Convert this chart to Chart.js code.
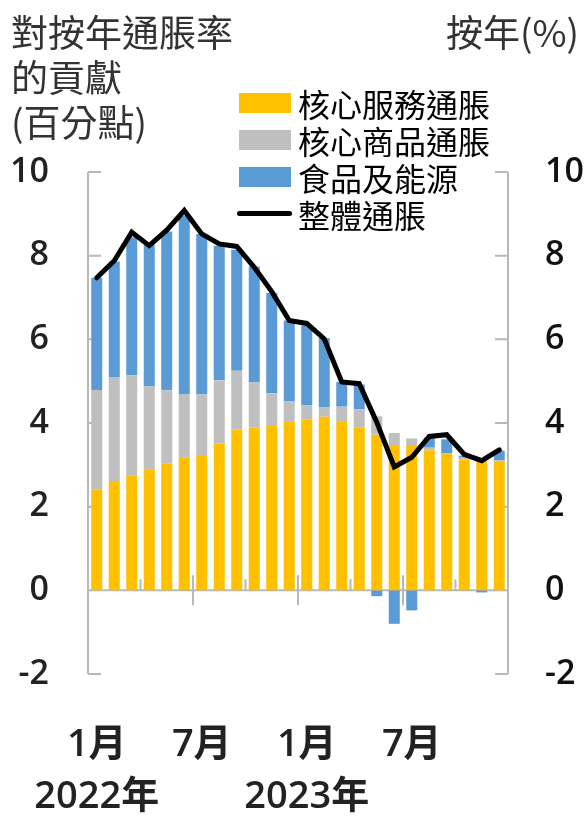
<!DOCTYPE html>
<html>
<head>
<meta charset="utf-8">
<script src="https://cdn.jsdelivr.net/npm/chart.js@4.4.1/dist/chart.umd.min.js"></script>
<style>
  body { margin: 0; background: #fff; }
  #wrap { position: relative; width: 587px; height: 818px; overflow: hidden; font-family: "Noto Sans CJK TC", sans-serif; }
  #c { position: absolute; left: 0; top: 0; }
  .ttl { position: absolute; font-size: 37px; line-height: 45px; color: #333; white-space: nowrap; }
  #legend { position: absolute; left: 237px; top: 84px; }
  .row { display: flex; align-items: center; height: 37px; font-size: 32px; color: #000; white-space: nowrap; }
  .sw { width: 52px; height: 20px; margin: 0 7px 0 2px; }
  .ln { width: 55px; height: 5px; border-radius: 3px; margin: 0 6px 0 0; }
</style>
</head>
<body>
<div id="wrap">
  <canvas id="c" width="587" height="818"></canvas>
  <div class="ttl" style="left:11px;top:9px;">對按年通脹率<br>的貢獻<br>(百分點)</div>
  <div class="ttl" style="right:8px;top:9px;">按年(%)</div>
  <div id="legend"></div>
</div>
<script>
// 2022年1月 - 2023年12月
const MONTHS = ["1月","2月","3月","4月","5月","6月","7月","8月","9月","10月","11月","12月",
                "1月","2月","3月","4月","5月","6月","7月","8月","9月","10月","11月","12月"];
const TICK_MONTHS = ["1月","","","","","","7月","","","","","",
                     "1月","","","","","","7月","","","","",""];
const TICK_YEARS = ["2022年","","","","","","","","","","","",
                    "2023年","","","","","","","","","","",""];

const CORE_SERVICES = [2.41,2.59,2.75,2.88,3.03,3.18,3.21,3.51,3.84,3.89,3.93,4.04,
                       4.09,4.15,4.04,3.89,3.72,3.45,3.45,3.35,3.26,3.13,3.10,3.07];
const CORE_GOODS    = [2.38,2.51,2.39,2.00,1.75,1.51,1.47,1.51,1.41,1.08,0.78,0.48,
                       0.33,0.23,0.35,0.44,0.44,0.31,0.18,0.06,0.02,0.04,0.00,0.04];
const FOOD_ENERGY   = [2.68,2.76,3.30,3.38,3.80,4.27,3.84,3.22,2.89,2.77,2.40,1.93,
                       1.91,1.65,0.59,0.59,-0.14,-0.80,-0.48,0.24,0.33,0.05,-0.05,0.23];
const HEADLINE      = [7.47,7.88,8.56,8.24,8.61,9.08,8.52,8.28,8.22,7.72,7.14,6.45,
                       6.38,6.01,4.98,4.94,4.02,2.95,3.18,3.68,3.72,3.25,3.10,3.36];

const Y_MIN = -2, Y_MAX = 10, Y_STEP = 2;
const AXIS_COLOR = "#b8b8b8";
const TICK_FONT = { family: "'Open Sans', 'Noto Sans CJK TC'", size: 34, weight: 600 };
const NO_GRID = { display: false, drawTicks: false, tickLength: 0 };

// Achsen, Rahmen und Ticks wie im Original (nach innen zeigend)
const axisFrame = {
  id: "axisFrame",
  beforeDatasetsDraw(chart) {
    const { ctx, chartArea: a, scales: { x, y } } = chart;
    ctx.save();
    ctx.strokeStyle = AXIS_COLOR;
    ctx.lineWidth = 2;
    ctx.beginPath();
    ctx.moveTo(a.left, a.top); ctx.lineTo(a.left, a.bottom);
    ctx.moveTo(a.right, a.top); ctx.lineTo(a.right, a.bottom);
    y.ticks.forEach(t => {
      const py = y.getPixelForValue(t.value);
      ctx.moveTo(a.left, py); ctx.lineTo(a.left + 13, py);
      ctx.moveTo(a.right, py); ctx.lineTo(a.right - 13, py);
    });
    const y0 = y.getPixelForValue(0);
    ctx.moveTo(a.left, y0); ctx.lineTo(a.right, y0);
    for (let i = 3; i < MONTHS.length; i += 3) {
      const px = (x.getPixelForValue(i - 1) + x.getPixelForValue(i)) / 2;
      const big = i % 6 === 0;
      ctx.moveTo(px, y0 - (big ? 15 : 11));
      ctx.lineTo(px, y0 + (big ? 15 : 0));
    }
    ctx.stroke();
    ctx.restore();
  }
};

const chart = new Chart(document.getElementById("c"), {
  data: {
    labels: MONTHS,
    datasets: [
      { type: "line", label: "整體通脹", data: HEADLINE, yAxisID: "yR", order: 0,
        borderColor: "#000", borderWidth: 5, pointRadius: 0, tension: 0, borderCapStyle: "round" },
      { type: "bar", label: "核心服務通脹", data: CORE_SERVICES, backgroundColor: "#ffc000", order: 1 },
      { type: "bar", label: "核心商品通脹", data: CORE_GOODS, backgroundColor: "#bfbfbf", order: 1 },
      { type: "bar", label: "食品及能源", data: FOOD_ENERGY, backgroundColor: "#5b9bd5", order: 1 }
    ]
  },
  options: {
    responsive: false, animation: false, devicePixelRatio: 1,
    layout: { padding: { top: 172, bottom: 0, left: 0, right: 0 } },
    datasets: { bar: { barPercentage: 0.63, categoryPercentage: 1 } },
    plugins: { legend: { display: false }, tooltip: { enabled: false } },
    scales: {
      x: {
        stacked: true,
        grid: NO_GRID, border: { display: false },
        afterFit: s => { s.height = 144; s.paddingLeft = 0; s.paddingRight = 0; },
        ticks: {
          autoSkip: false, maxRotation: 0, padding: 46, color: "#222",
          font: { family: "'Open Sans', 'Noto Sans CJK TC'", size: 38, weight: 600, lineHeight: 1.35 },
          callback: (v, i) => TICK_MONTHS[i] ? (TICK_YEARS[i] ? [TICK_MONTHS[i], TICK_YEARS[i]] : TICK_MONTHS[i]) : ""
        }
      },
      y: {
        stacked: true, min: Y_MIN, max: Y_MAX, position: "left",
        grid: NO_GRID, border: { display: false },
        afterFit: s => { s.width = 88; },
        ticks: { stepSize: Y_STEP, padding: 39, color: "#222", font: TICK_FONT }
      },
      yR: {
        min: Y_MIN, max: Y_MAX, position: "right",
        grid: NO_GRID, border: { display: false },
        afterFit: s => { s.width = 79; },
        ticks: { stepSize: Y_STEP, padding: 37, color: "#111", font: TICK_FONT }
      }
    }
  },
  plugins: [axisFrame]
});

// Legende (Balken zuerst, dann Linie)
const legend = document.getElementById("legend");
[1, 2, 3, 0].forEach(i => {
  const ds = chart.data.datasets[i];
  const row = document.createElement("div");
  row.className = "row";
  const mark = document.createElement("span");
  mark.className = ds.type === "line" ? "ln" : "sw";
  mark.style.background = ds.type === "line" ? ds.borderColor : ds.backgroundColor;
  row.appendChild(mark);
  row.appendChild(document.createTextNode(ds.label));
  legend.appendChild(row);
});
</script>
</body>
</html>
